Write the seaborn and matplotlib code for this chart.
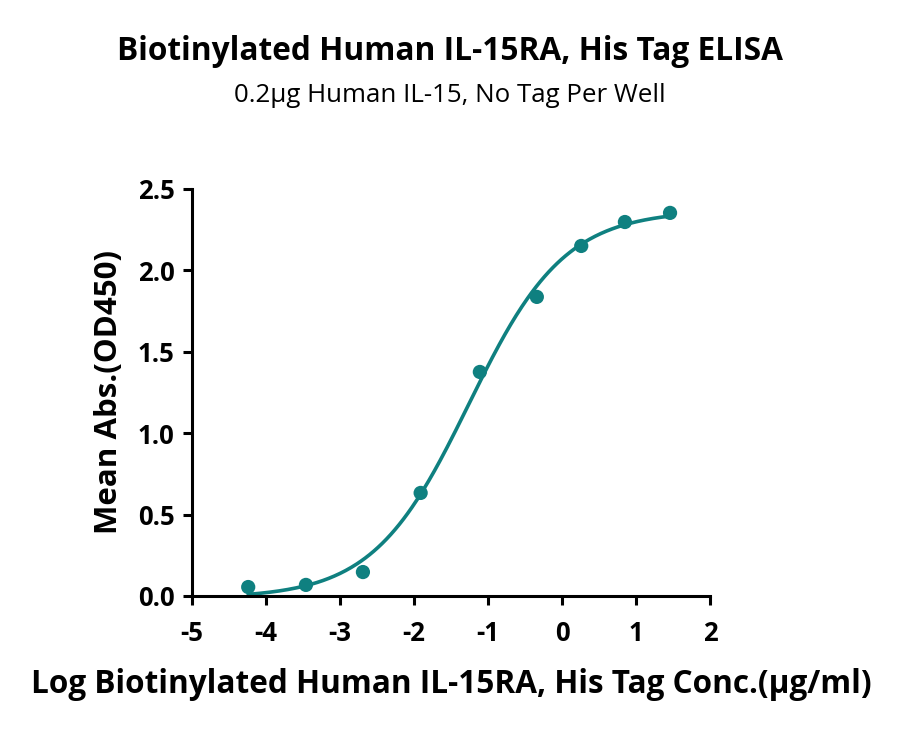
import numpy as np
import pandas as pd
import matplotlib
matplotlib.use('Agg')
import matplotlib.pyplot as plt
import seaborn as sns

# values
log_conc = [-4.24, -3.46, -2.69, -1.91, -1.11, -0.34, 0.26, 0.85, 1.46]
mean_abs = [0.055, 0.068, 0.147, 0.633, 1.376, 1.837, 2.15, 2.297, 2.353]

x_ticks = [-5, -4, -3, -2, -1, 0, 1, 2]
y_ticks = [0.0, 0.5, 1.0, 1.5, 2.0, 2.5]

title = 'Biotinylated Human IL-15RA, His Tag ELISA'
subtitle = '0.2μg Human IL-15, No Tag Per Well'
x_label = 'Log Biotinylated Human IL-15RA, His Tag Conc.(μg/ml)'
y_label = 'Mean Abs.(OD450)'

teal = '#0f8080'

df = pd.DataFrame({'x': log_conc, 'y': mean_abs})


def fit_4pl(x, y):
    """Four parameter logistic fit: grid over ec50/hill, linear solve for bottom/top."""
    x = np.asarray(x)
    y = np.asarray(y)
    best = None
    for ec in np.linspace(-3, 0, 301):
        for hill in np.linspace(0.3, 2.5, 221):
            s = 1.0 / (1.0 + 10 ** ((ec - x) * hill))
            A = np.column_stack([1 - s, s])
            coef, *_ = np.linalg.lstsq(A, y, rcond=None)
            err = np.sum((A @ coef - y) ** 2)
            if best is None or err < best[0]:
                best = (err, coef[0], coef[1], ec, hill)
    return best[1:]


bottom, top, ec50, hill = fit_4pl(log_conc, mean_abs)
xs = np.linspace(min(log_conc), max(log_conc), 300)
ys = bottom + (top - bottom) / (1 + 10 ** ((ec50 - xs) * hill))
curve = pd.DataFrame({'x': xs, 'y': ys})

sns.set_style('ticks')
plt.rcParams['font.family'] = ['Open Sans', 'DejaVu Sans']
plt.rcParams['text.color'] = 'black'
plt.rcParams['axes.labelcolor'] = 'black'
plt.rcParams['xtick.color'] = 'black'
plt.rcParams['ytick.color'] = 'black'

fig = plt.figure(figsize=(9, 7.31), dpi=100)
ax = fig.add_axes([0.2133, 0.1847, 0.5756, 0.5568])

sns.lineplot(data=curve, x='x', y='y', color=teal, linewidth=2.6, ax=ax)
sns.scatterplot(data=df, x='x', y='y', color=teal, s=105, edgecolor='none', ax=ax, zorder=3)

ax.set_xlim(-5, 2)
ax.set_ylim(0, 2.5)
ax.set_xticks(x_ticks)
ax.set_yticks(y_ticks)
ax.set_xticklabels([str(t) for t in x_ticks])
ax.set_yticklabels([f'{t:.1f}' for t in y_ticks])
for lab in ax.get_xticklabels() + ax.get_yticklabels():
    lab.set_fontweight('bold')
    lab.set_fontsize(18.5)

sns.despine(ax=ax)
for side in ['left', 'bottom']:
    ax.spines[side].set_linewidth(2.2)
    ax.spines[side].set_color('black')
ax.tick_params(width=2.2, length=6.5, color='black')
ax.tick_params(axis='x', pad=11)
ax.tick_params(axis='y', pad=6)

ax.set_xlabel(x_label, fontsize=22.7, fontweight='bold', labelpad=15)
ax.set_ylabel(y_label, fontsize=22.5, fontweight='bold', labelpad=10)

fig.text(0.5, 0.929, title, ha='center', va='center', fontsize=22.8, fontweight='bold')
fig.text(0.5, 0.869, subtitle, ha='center', va='center', fontsize=18.6)

fig.savefig('out.png', dpi=100, facecolor='white')
